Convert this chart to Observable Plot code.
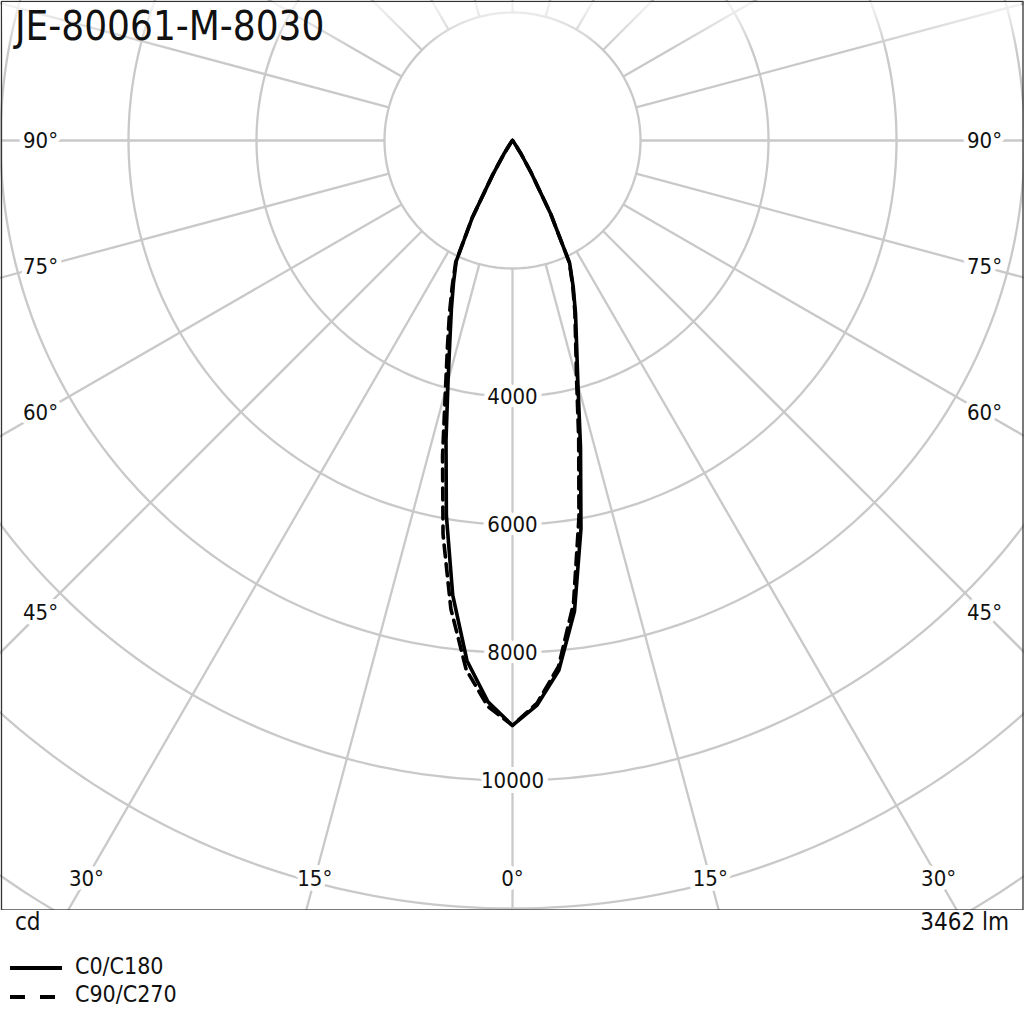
<!DOCTYPE html>
<html>
<head>
<meta charset="utf-8">
<script src="https://cdn.jsdelivr.net/npm/d3@7"></script>
<script src="https://cdn.jsdelivr.net/npm/@observablehq/plot@0.6"></script>
<style>
  body { margin: 0; background: #fff; }
  #wrap { position: relative; width: 1024px; height: 1024px; overflow: hidden;
          font-family: "DejaVu Sans Condensed", "DejaVu Sans", sans-serif; font-stretch: condensed; color: #111; }
  #chart { position: absolute; left: 0; top: 0; }
  #fade { position: absolute; left: 2px; top: 2px; width: 1019px; height: 48px;
          background: linear-gradient(rgba(255,255,255,0.8), rgba(255,255,255,0)); pointer-events: none; }
  #title { position: absolute; left: 15px; top: 2px; font-size: 40px; line-height: 48px; white-space: nowrap; }
  .lbl { position: absolute; white-space: nowrap; }
  svg.sw { position: absolute; }
</style>
</head>
<body>
<div id="wrap">
  <div id="chart"></div>
  <div id="fade"></div>
  <div id="title"></div>
  <div class="lbl" id="unit" style="left:15px; top:908px; font-size:24px;"></div>
  <div class="lbl" id="flux" style="right:15px; top:908px; font-size:24px;"></div>
  <svg class="sw" style="left:0; top:955px;" width="70" height="60">
    <line x1="10" x2="62" y1="13" y2="13" stroke="#000" stroke-width="4"/>
    <line x1="10" x2="62" y1="42" y2="42" stroke="#000" stroke-width="4" stroke-dasharray="15,15"/>
  </svg>
  <div class="lbl" id="leg0" style="left:75px; top:953px; font-size:23px;"></div>
  <div class="lbl" id="leg1" style="left:75px; top:981px; font-size:23px;"></div>
</div>
<script>
// ---- data ----
const titleText = "JE-80061-M-8030";
const unitText = "cd";
const fluxText = "3462 lm";
const seriesNames = ["C0/C180", "C90/C270"];

const gamma = [0, 2.5, 5, 7.5, 10, 12.5, 15, 17.5, 20, 22.5, 25, 27.5, 30, 32.5, 35, 40, 45, 60, 75, 90];
const c0   = [9140, 8830, 8310, 7420, 6160, 4910, 3950, 3330, 2880, 2480, 2110, 1290, 590, 250, 80, 20, 0, 0, 0, 0];
const c180 = [9140, 8780, 8160, 7160, 5950, 4800, 3890, 3250, 2790, 2410, 2080, 1370, 620, 260, 80, 20, 0, 0, 0, 0];
const c90  = [9140, 8800, 8250, 7300, 5980, 4780, 3870, 3280, 2850, 2460, 2100, 1290, 590, 250, 80, 20, 0, 0, 0, 0];
const c270 = [9140, 8850, 8300, 7380, 6250, 5050, 4050, 3380, 2880, 2460, 2100, 1370, 620, 260, 80, 20, 0, 0, 0, 0];

const ringValues = [2000, 4000, 6000, 8000, 10000, 12000, 14000];
const ringLabels = [4000, 6000, 8000, 10000];
const spokeAngles = d3.range(0, 360, 15);
const angleLabels = [0, 15, 30, 45, 60, 75, 90];

// ---- geometry ----
const W = 1024, H = 910;
const k = 0.064;              // px per cd
const cx = 512, cy = 140;     // pole position in px
const rad = d => d * Math.PI / 180;

document.getElementById("title").textContent = titleText;
document.getElementById("unit").textContent = unitText;
document.getElementById("flux").textContent = fluxText;
document.getElementById("leg0").textContent = seriesNames[0];
document.getElementById("leg1").textContent = seriesNames[1];

const ringPts = ringValues.flatMap(r => d3.range(0, 361, 1).map(a => ({ring: r, x: r * Math.sin(rad(a)), y: r * Math.cos(rad(a))})));
const spokes = spokeAngles.map(a => ({
  x1: ringValues[0] * Math.sin(rad(a)), y1: ringValues[0] * Math.cos(rad(a)),
  x2: 20000 * Math.sin(rad(a)), y2: 20000 * Math.cos(rad(a))
}));

// degree labels placed where the spoke meets an inset box inside the frame
const xLim = (cx - 40) / k, yLim = (878 - cy) / k;
const degLbl = [];
for (const a of angleLabels) {
  for (const s of (a === 0 ? [1] : [-1, 1])) {
    let x, y;
    if (a === 90) { x = s * xLim; y = 0; }
    else if (a === 0) { x = 0; y = yLim; }
    else {
      const yAtX = xLim / Math.tan(rad(a));
      if (yAtX <= yLim) { x = s * xLim; y = yAtX; }
      else { y = yLim; x = s * yLim * Math.tan(rad(a)); }
    }
    degLbl.push({x, y, t: a + "°"});
  }
}

const side = (vals, sgn) => gamma.map((g, i) => ({x: sgn * vals[i] * Math.sin(rad(g)), y: vals[i] * Math.cos(rad(g))}));
const solid = [...side(c180, -1).reverse(), ...side(c0, 1)];
const dashed = [...side(c270, -1).reverse(), ...side(c90, 1)];

const grid = "#c9c9c9";
const chart = Plot.plot({
  width: W, height: H,
  marginLeft: 0, marginRight: 0, marginTop: 0, marginBottom: 0,
  x: {domain: [-cx / k, (W - cx) / k], range: [0, W], axis: null},
  y: {domain: [-cy / k, (H - cy) / k], range: [0, H], axis: null},
  style: {fontFamily: '"DejaVu Sans Condensed", "DejaVu Sans", sans-serif', fontSize: "22px", color: "#111", background: "#fff", overflow: "hidden"},
  marks: [
    Plot.line(ringPts, {x: "x", y: "y", z: "ring", stroke: grid, strokeWidth: 2.3, clip: true}),
    Plot.link(spokes, {x1: "x1", y1: "y1", x2: "x2", y2: "y2", stroke: grid, strokeWidth: 2.3, clip: true}),
    Plot.text(ringLabels, {x: () => 0, y: d => d, text: d => String(d), fill: "#111", stroke: "#fff", strokeWidth: 10, fontSize: 22}),
    Plot.text(degLbl, {x: "x", y: "y", text: "t", fill: "#111", stroke: "#fff", strokeWidth: 10, fontSize: 22}),
    Plot.line(solid, {x: "x", y: "y", stroke: "#000", strokeWidth: 3.6, strokeLinejoin: "round", strokeLinecap: "round"}),
    Plot.line(dashed, {x: "x", y: "y", stroke: "#000", strokeWidth: 3.6, strokeDasharray: "12,7"}),
    Plot.frame({stroke: "#333", strokeWidth: 1.3, insetLeft: 1, insetTop: 1, insetRight: 1.5, insetBottom: 0.5})
  ]
});
document.getElementById("chart").append(chart);
</script>
</body>
</html>
